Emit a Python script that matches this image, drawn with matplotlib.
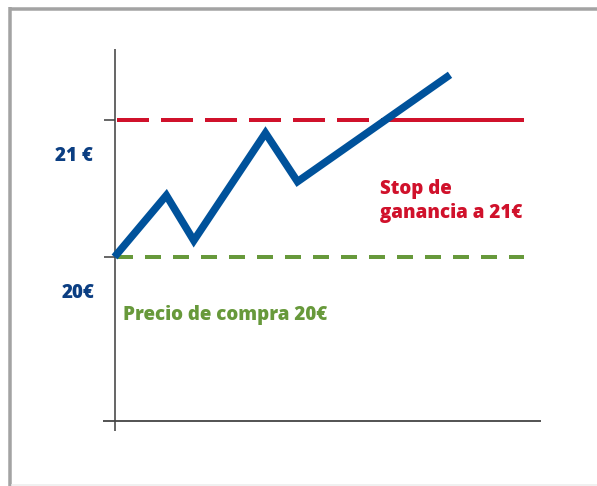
import matplotlib
matplotlib.use("Agg")
import matplotlib.pyplot as plt
from matplotlib.lines import Line2D

# Price path of the share over time
times = [0.0, 1.7, 2.6, 4.95, 6.0, 11.0]
prices = [20.0, 20.45, 20.12, 20.905, 20.55, 21.33]

buy_price = 20.0
stop_price = 21.0
level_labels = ["20€", "21 €"]
buy_label = "Precio de compra 20€"
stop_label = "Stop de\nganancia a 21€"

BLUE_LINE = "#00529b"
BLUE_TEXT = "#0b3e82"
RED = "#d0112b"
GREEN = "#67993b"
AXIS = "#444444"

plt.rcParams["lines.scale_dashes"] = False
plt.rcParams["font.family"] = ["Open Sans", "DejaVu Sans"]

W, H, DPI = 597, 486, 100
fig = plt.figure(figsize=(W / DPI, H / DPI), dpi=DPI)
ax = fig.add_axes([0, 0, 1, 1])
ax.set_axis_off()

# scale: 30.5 px per time unit, 137 px per euro
X0, XS = 114.5, 30.5
Y0, YS = 257.0, 137.0
ax.set_xlim(-X0 / XS, (W - X0) / XS)
ax.set_ylim(buy_price - (H - Y0) / YS, buy_price + Y0 / YS)


def px(v):
    return v / DPI * 72


# frame around the chart: gray top and left edges, faint bottom edge
for xs, ys, col, lw in [
    ([9.5, W + 2], [9.3, 9.3], "#a3a3a3", 3.5),
    ([9.5, 9.5], [7.5, H + 2], "#a3a3a3", 3.5),
    ([11, W + 2], [484.8, 484.8], "#ececec", 1.5),
]:
    fig.lines.append(Line2D([x / W for x in xs], [1 - y / H for y in ys],
                            transform=fig.transFigure, color=col,
                            linewidth=px(lw), solid_capstyle="butt"))

# axes lines
y_bottom = buy_price - (421 - Y0) / YS
ax.plot([0, 0], [buy_price - (431 - Y0) / YS, buy_price + (Y0 - 49) / YS],
        color=AXIS, linewidth=px(1.6), solid_capstyle="butt")
ax.plot([-(X0 - 103) / XS, (541 - X0) / XS], [y_bottom, y_bottom],
        color=AXIS, linewidth=px(1.8), solid_capstyle="butt")
for lvl in (buy_price, stop_price):
    ax.plot([-(X0 - 104) / XS, 0], [lvl, lvl], color=AXIS, linewidth=px(1.6),
            solid_capstyle="butt")

# buy level (green dashed)
x_start = (117 - X0) / XS
x_end = (523.5 - X0) / XS
ax.plot([x_start, x_end], [buy_price, buy_price], color=GREEN, linewidth=px(4),
        linestyle=(0, (px(16), px(12))), dash_capstyle="butt")

# stop level: dashed until the price crosses it, solid afterwards
i = next(k for k in range(1, len(prices)) if prices[k] >= stop_price)
t_cross = times[i - 1] + (stop_price - prices[i - 1]) / (prices[i] - prices[i - 1]) * (times[i] - times[i - 1])
ax.plot([x_start, t_cross], [stop_price, stop_price], color=RED, linewidth=px(4),
        linestyle=(0, (px(32), px(12))), dash_capstyle="butt")
ax.plot([t_cross, x_end], [stop_price, stop_price], color=RED, linewidth=px(4),
        solid_capstyle="butt")

# price path
ax.plot(times, prices, color=BLUE_LINE, linewidth=px(7.5),
        solid_joinstyle="miter", solid_capstyle="butt", zorder=5)


def fig_xy(x, y):
    return x / W, 1 - y / H


fs = px(18.8)
weight = "heavy"
fig.text(*fig_xy(74, 156), level_labels[1], color=BLUE_TEXT, fontsize=fs,
         fontweight=weight, ha="center", va="center")
fig.text(*fig_xy(78, 292.5), level_labels[0], color=BLUE_TEXT, fontsize=fs,
         fontweight=weight, ha="center", va="center")
fig.text(*fig_xy(123, 314.5), buy_label, color=GREEN, fontsize=fs,
         fontweight=weight, ha="left", va="center")
fig.text(*fig_xy(379.5, 201), stop_label, color=RED, fontsize=fs,
         fontweight=weight, ha="left", va="center", linespacing=1.3)

fig.savefig("out.png", dpi=DPI, facecolor="white")
